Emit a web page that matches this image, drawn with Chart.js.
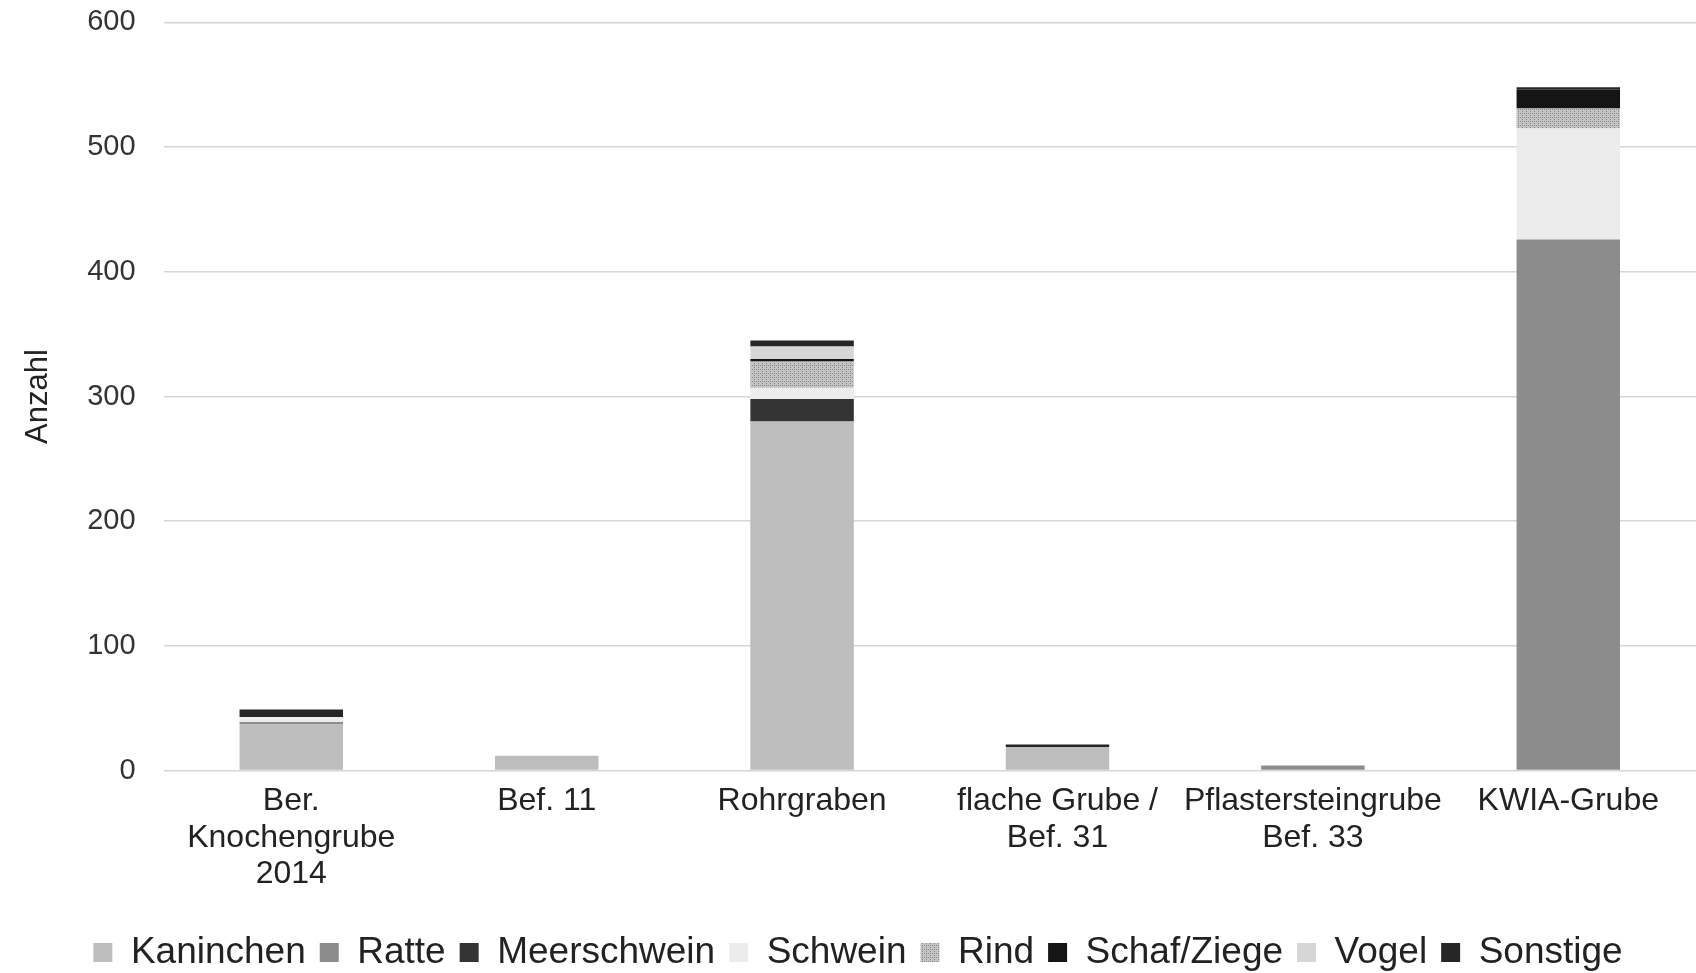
<!DOCTYPE html>
<html>
<head>
<meta charset="utf-8">
<script src="https://cdn.jsdelivr.net/npm/chart.js@4/dist/chart.umd.min.js"></script>
<style>
  html, body { margin: 0; padding: 0; background: #fff; }
  #wrap { width: 1696px; height: 973px; overflow: hidden; position: relative; }
  #fundChart { position: absolute; left: 0; top: -23px; }
</style>
</head>
<body>
<div id="wrap"><canvas id="fundChart" width="1696" height="996"></canvas></div>
<script>
// Kategorien (Befunde) und Tierarten
const categories = [
    ['Ber.', 'Knochengrube', '2014'],
    'Bef. 11',
    'Rohrgraben',
    ['flache Grube /', 'Bef. 31'],
    ['Pflastersteingrube', 'Bef. 33'],
    'KWIA-Grube'
];

const kaninchen   = [37, 12, 280, 19, 0, 0];
const ratte       = [2, 0, 0, 0, 4, 426];
const meerschwein = [0, 0, 18, 0, 0, 0];
const schwein     = [4, 0, 9, 0, 0, 89];
const rind        = [0, 0, 21, 0, 0, 16];
const schafZiege  = [0, 0, 2, 0, 0, 15];
const vogel       = [0, 0, 10, 0, 0, 0];
const sonstige    = [6, 0, 5, 2, 0, 2];

const yTicks = [0, 100, 200, 300, 400, 500, 600];

// gepunktetes Muster für Rind
function makePattern() {
    const c = document.createElement('canvas');
    c.width = 4; c.height = 4;
    const g = c.getContext('2d');
    g.fillStyle = '#c4c4c4';
    g.fillRect(0, 0, 4, 4);
    g.fillStyle = '#8a8a8a';
    g.fillRect(0, 0, 1, 1);
    g.fillRect(2, 2, 1, 1);
    g.fillRect(2, 0, 1, 1);
    return g.createPattern(c, 'repeat');
}

const series = [
    { label: 'Kaninchen',   data: kaninchen,   color: '#bdbdbd' },
    { label: 'Ratte',       data: ratte,       color: '#8c8c8c' },
    { label: 'Meerschwein', data: meerschwein, color: '#343434' },
    { label: 'Schwein',     data: schwein,     color: '#ececec' },
    { label: 'Rind',        data: rind,        color: makePattern() },
    { label: 'Schaf/Ziege', data: schafZiege,  color: '#151515' },
    { label: 'Vogel',       data: vogel,       color: '#d6d6d6' },
    { label: 'Sonstige',    data: sonstige,    color: '#262626' }
];

const FONT = 'Liberation Sans, Arial, sans-serif';

const ctx = document.getElementById('fundChart').getContext('2d');
new Chart(ctx, {
    type: 'bar',
    data: {
        labels: categories,
        datasets: series.map(s => ({
            label: s.label,
            data: s.data,
            backgroundColor: s.color,
            borderWidth: 0,
            barPercentage: 0.405,
            categoryPercentage: 1
        }))
    },
    options: {
        responsive: false,
        animation: false,
        layout: { padding: { top: 0, right: 0, bottom: -8, left: 20 } },
        plugins: {
            tooltip: { enabled: false },
            legend: {
                position: 'bottom',
                labels: {
                    color: '#222',
                    font: { family: FONT, size: 37 },
                    boxWidth: 19,
                    boxHeight: 19,
                    padding: 14
                }
            }
        },
        scales: {
            x: {
                stacked: true,
                grid: { display: false },
                border: { display: false },
                afterFit: axis => { axis.height += 23; },
                ticks: {
                    color: '#222',
                    font: { family: FONT, size: 32, lineHeight: 1.15 },
                    maxRotation: 0,
                    autoSkip: false,
                    padding: 4
                }
            },
            y: {
                stacked: true,
                min: 0,
                max: 600,
                afterBuildTicks: axis => { axis.ticks = yTicks.map(v => ({ value: v })); },
                grid: { color: '#d6d6d6', lineWidth: 1.5, drawTicks: false },
                border: { display: false },
                ticks: {
                    color: '#333',
                    font: { family: FONT, size: 29 },
                    padding: 28
                },
                title: {
                    display: true,
                    text: 'Anzahl',
                    color: '#222',
                    font: { family: FONT, size: 31 },
                    padding: { top: 0, bottom: 2 }
                }
            }
        }
    }
});
</script>
</body>
</html>
